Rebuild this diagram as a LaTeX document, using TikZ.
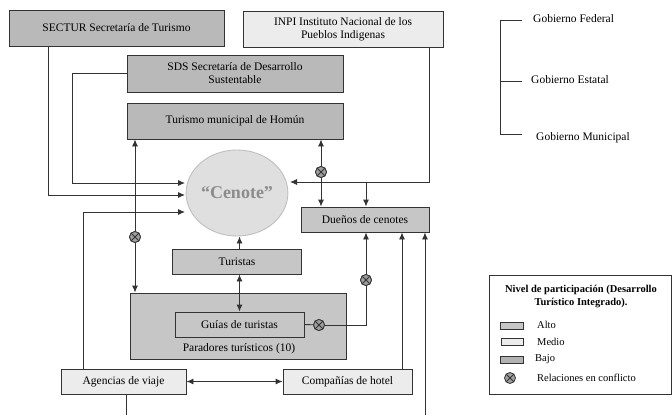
\documentclass[tikz,border=0pt]{standalone}
\usepackage{fontspec}
\setmainfont{Liberation Serif}
\usetikzlibrary{arrows.meta,shapes.geometric}
\definecolor{dk}{HTML}{B9B9B9}
\definecolor{md}{HTML}{C6C6C6}
\definecolor{lt}{HTML}{ECECEC}
\definecolor{ln}{HTML}{333333}
\tikzset{
  box/.style={draw=ln,line width=0.9pt,inner sep=0pt,align=center,font=\fontsize{11.5}{13}\selectfont},
  arr/.style={draw=ln,line width=0.9pt,-{Latex[length=7pt,width=6pt]}},
  darr/.style={draw=ln,line width=0.9pt,{Latex[length=7pt,width=6pt]}-{Latex[length=7pt,width=6pt]}},
  ln/.style={draw=ln,line width=0.9pt},
  conf/.style={circle,draw=ln,fill=gray!75,line width=0.8pt,minimum size=11pt,inner sep=0pt,
    path picture={\draw[ln,line width=0.8pt] (path picture bounding box.north west) -- (path picture bounding box.south east)
      (path picture bounding box.north east) -- (path picture bounding box.south west);}},
  legtxt/.style={anchor=west,inner sep=0pt,font=\fontsize{10.5}{12}\selectfont},
}
\begin{document}
\begin{tikzpicture}[x=1pt,y=-1pt]
\useasboundingbox (0,0) rectangle (672,415);
% boxes
\node[box,fill=dk,minimum width=215,minimum height=36] (sectur) at (116.5,28) {SECTUR Secretaría de Turismo};
\node[box,fill=lt,minimum width=200,minimum height=36] (inpi) at (343,29) {INPI Instituto Nacional de los\\Pueblos Indigenas};
\node[box,fill=dk,minimum width=216,minimum height=37] (sds) at (235,73.5) {SDS Secretaría de Desarrollo\\Sustentable};
\node[box,fill=dk,minimum width=216,minimum height=36] (tur) at (235,121) {Turismo municipal de Homún};
\node[ellipse,draw=gray!50,fill=gray!25,line width=0.9pt,minimum width=95,minimum height=86,inner sep=0pt,
  font=\fontsize{18}{20}\selectfont\bfseries,text=gray!90] (cenote) at (237,193) {“Cenote”};
\node[box,fill=md,minimum width=128,minimum height=25] (duenos) at (365,219.5) {Dueños de cenotes};
\node[box,fill=md,minimum width=129,minimum height=25] (turistas) at (237,261.5) {Turistas};
\node[box,fill=md,minimum width=216,minimum height=66] (parad) at (238,326) {};
\node[box,fill=md,minimum width=129,minimum height=25] (guias) at (239.5,324.5) {Guías de turistas};
\node[inner sep=0pt,font=\fontsize{11.5}{13}\selectfont] (paradlbl) at (239,348.5) {Paradores turísticos (10)};
\node[box,fill=lt,minimum width=125,minimum height=25] (agencias) at (123.5,381.5) {Agencias de viaje};
\node[box,fill=lt,minimum width=129,minimum height=25] (comp) at (347.5,381.5) {Compañías de hotel};
% helper coordinates
\coordinate (sdsA) at (72,183);
\coordinate (sdsT) at (185,183);
\coordinate (secA) at (48,195);
\coordinate (secT) at (185,195);
\coordinate (agA) at (83,212);
\coordinate (agT) at (185,212);
\coordinate (inpiA) at (429,182);
\coordinate (inpiT) at (290,182);
\coordinate (inpiB) at (366,182);
\coordinate (guiaB) at (366,325);
\coordinate (botA) at (425,415);
\coordinate (botB) at (126,415);
% conflict markers
\node[conf] (c1) at (135,237) {};
\node[conf] (c2) at (321,172) {};
\node[conf] (c3) at (319,325) {};
\node[conf] (c4) at (366,280) {};
% connectors
\draw[arr] (sds.west) -| (sdsA) -- (sdsT);
\draw[arr] (sectur.south -| secA) |- (secT);
\draw[arr] (agencias.north -| agA) |- (agT);
\draw[darr] (tur.south -| c1) -- (parad.north -| c1);
\draw[darr] (tur.south -| c2) -- (duenos.north -| c2);
\draw[arr] (inpi.south -| inpiA) |- (inpiT);
\draw[arr] (inpiB) -- (duenos.north -| inpiB);
\draw[arr] (turistas.north -| guias.north) -- (cenote.south -| guias.north);
\draw[darr] (turistas.south -| guias.north) -- (guias.north);
\draw[ln] (guias.east) -- (c3);
\draw[arr] (c3) -- (guiaB) -- (duenos.south -| guiaB);
\draw[darr] (agencias.east) -- (comp.west);
\draw[arr] (comp.north -| 402,0) -- (duenos.south -| 402,0);
\draw[arr] (botA) -- (duenos.south -| botA);
\draw[ln] (agencias.south -| botB) -- (botB);
% redraw markers on top
\node[conf] at (c1) {};
\node[conf] at (c2) {};
\node[conf] at (c3) {};
\node[conf] at (c4) {};
% government legend
\coordinate (g1) at (500,20);
\coordinate (g2) at (500,81);
\coordinate (g3) at (500,134);
\draw[ln] (522,20) -- (g1) -- (g3) -- (522,134);
\draw[ln] (g2) -- (522,81);
\node[legtxt,font=\fontsize{11.5}{13}\selectfont] (gf) at (533,19) {Gobierno Federal};
\node[legtxt,font=\fontsize{11.5}{13}\selectfont] (ge) at (531,80) {Gobierno Estatal};
\node[legtxt,font=\fontsize{11.5}{13}\selectfont] (gm) at (536,138) {Gobierno Municipal};
% participation legend
\node[draw=ln,line width=0.9pt,minimum width=182,minimum height=119,inner sep=0pt] (leg) at (580.5,334.5) {};
\node[inner sep=0pt,align=center,font=\fontsize{10.5}{13}\selectfont\bfseries] (legt) at (581,296.5) {Nivel de participación (Desarrollo\\Turístico Integrado).};
\node[draw=ln,line width=0.8pt,fill=md,minimum width=23,minimum height=7,inner sep=0pt] (s1) at (511.5,326) {};
\node[draw=ln,line width=0.8pt,fill=lt,minimum width=22,minimum height=7,inner sep=0pt] (s2) at (512,342) {};
\node[draw=ln,line width=0.8pt,fill=md!90!black,minimum width=23,minimum height=7,inner sep=0pt] (s3) at (511.5,360) {};
\node[conf] (s4) at (510,378) {};
\node[legtxt] (l1) at (537,325) {Alto};
\node[legtxt] (l2) at (537,342) {Medio};
\node[legtxt] (l3) at (535,359) {Bajo};
\node[legtxt] (l4) at (537,378) {Relaciones en conflicto};
\end{tikzpicture}
\end{document}
